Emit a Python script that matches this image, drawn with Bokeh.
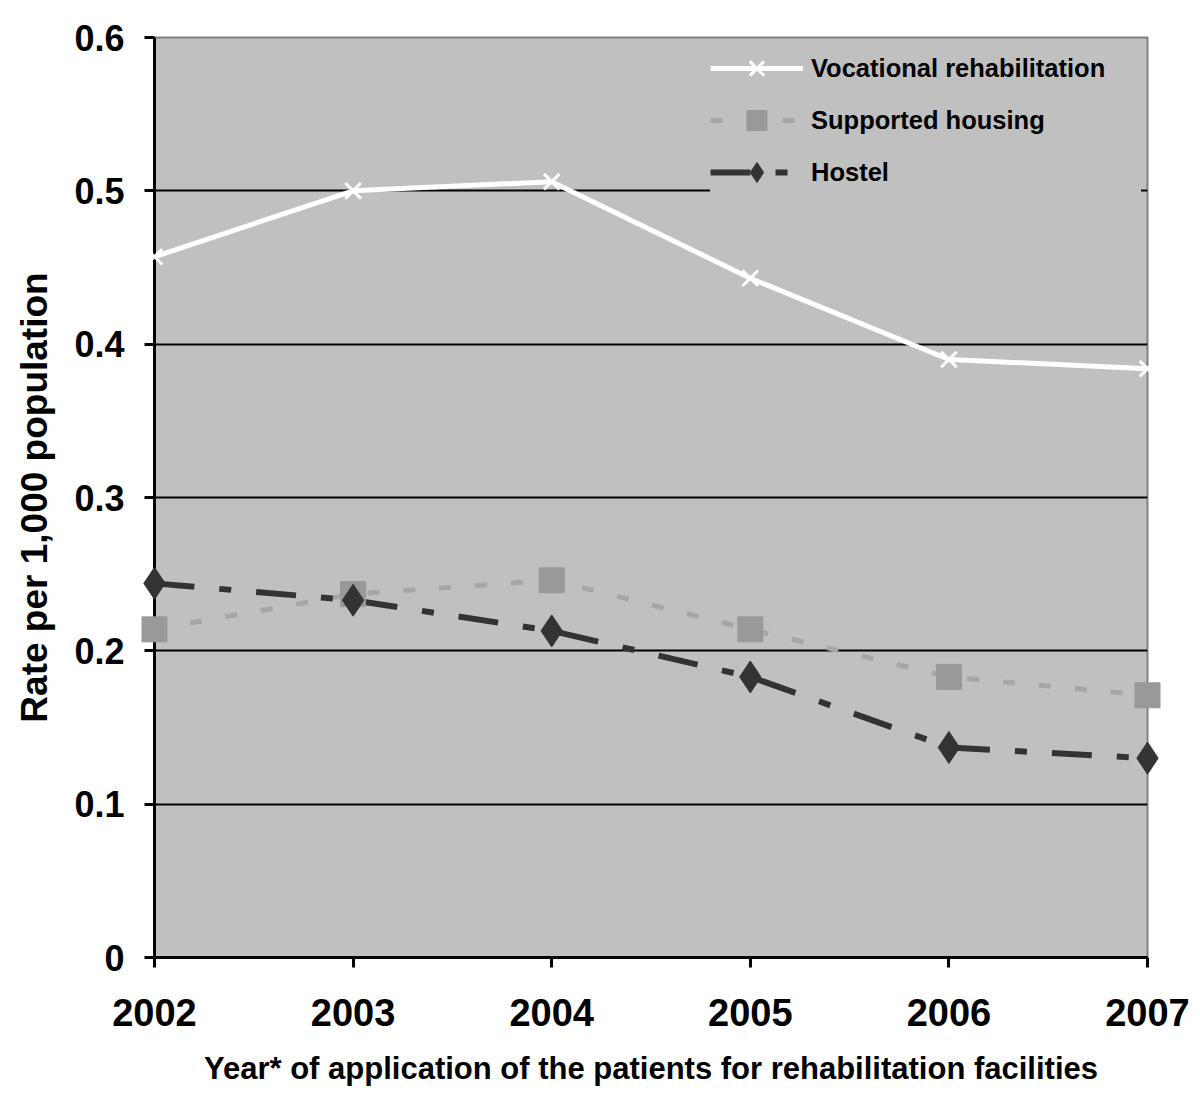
from bokeh.plotting import figure
from bokeh.models import Range1d, Legend, LegendItem, FixedTicker
from bokeh.embed import file_html
from bokeh.resources import INLINE

years = [2002, 2003, 2004, 2005, 2006, 2007]
vocational = [0.457, 0.500, 0.506, 0.443, 0.390, 0.384]
supported = [0.214, 0.237, 0.246, 0.214, 0.183, 0.171]
hostel = [0.244, 0.233, 0.213, 0.183, 0.137, 0.130]
y_ticks = [0, 0.1, 0.2, 0.3, 0.4, 0.5, 0.6]
y_tick_labels = {0: "0", 0.1: "0.1", 0.2: "0.2", 0.3: "0.3", 0.4: "0.4", 0.5: "0.5", 0.6: "0.6"}

FONT = "Liberation Sans"

p = figure(width=1192, height=1104, output_backend="svg", toolbar_location=None,
           x_range=Range1d(2002, 2007), y_range=Range1d(0, 0.6),
           min_border_left=154, min_border_right=45, min_border_top=37, min_border_bottom=147)

p.background_fill_color = "#c0c0c0"
p.border_fill_color = "white"
p.outline_line_color = "#808080"
p.outline_line_width = 2

p.xgrid.grid_line_color = None
p.ygrid.grid_line_color = "black"
p.ygrid.grid_line_width = 2
p.ygrid.ticker = FixedTicker(ticks=[0.1, 0.2, 0.3, 0.4, 0.5])

p.yaxis.ticker = FixedTicker(ticks=y_ticks)
p.yaxis.major_label_overrides = y_tick_labels
p.xaxis.ticker = FixedTicker(ticks=years)

for ax in (p.xaxis[0], p.yaxis[0]):
    ax.axis_line_color = "black"
    ax.axis_line_width = 3
    ax.major_tick_line_color = "black"
    ax.major_tick_line_width = 3
    ax.major_tick_out = 10
    ax.major_tick_in = 0
    ax.minor_tick_line_color = None
    ax.major_label_text_font = FONT
    ax.major_label_text_font_style = "bold"
    ax.major_label_text_font_size = "36px"
    ax.major_label_text_color = "black"
    ax.axis_label_text_font = FONT
    ax.axis_label_text_font_style = "bold"
    ax.axis_label_text_color = "black"

p.xaxis.major_label_text_font_size = "38px"
p.xaxis.major_label_standoff = 31
p.yaxis.major_label_standoff = 20
p.xaxis.axis_label = "Year* of application of the patients for rehabilitation facilities"
p.xaxis.axis_label_text_font_size = "31px"
p.xaxis.axis_label_standoff = 22
p.yaxis.axis_label = "Rate per 1,000 population"
p.yaxis.axis_label_text_font_size = "37px"
p.yaxis.axis_label_standoff = 16

# Vocational rehabilitation
l1 = p.line(years, vocational, line_color="white", line_width=5)
m1 = p.scatter(years, vocational, marker="x", size=22, line_color="white", line_width=3, level="overlay")

# Supported housing
l2 = p.line(years, supported, line_color="#a6a6a6", line_width=5, line_dash="12 24")
m2 = p.scatter(years, supported, marker="square", size=25, fill_color="#999999", line_color="#999999", level="overlay")

# Hostel
l3 = p.line(years, hostel, line_color="#333333", line_width=6, line_dash="40 25 12 25")
m3 = p.scatter(years, hostel, marker="diamond", size=32, fill_color="#333333", line_color="#333333", level="overlay")

legend = Legend(items=[
    LegendItem(label="Vocational rehabilitation", renderers=[l1, m1]),
    LegendItem(label="Supported housing", renderers=[l2, m2]),
    LegendItem(label="Hostel", renderers=[l3, m3]),
], location=(556, 760))
legend.background_fill_color = "#c0c0c0"
legend.background_fill_alpha = 1.0
legend.border_line_color = None
legend.label_text_font = FONT
legend.label_text_font_style = "bold"
legend.label_text_font_size = "25.5px"
legend.label_text_color = "black"
legend.glyph_width = 93
legend.glyph_height = 50
legend.spacing = 2
legend.padding = 0
legend.margin = 0
legend.label_standoff = 8
legend.label_width = 330
p.add_layout(legend, "center")

open("out.html", "w").write(file_html(p, INLINE))
